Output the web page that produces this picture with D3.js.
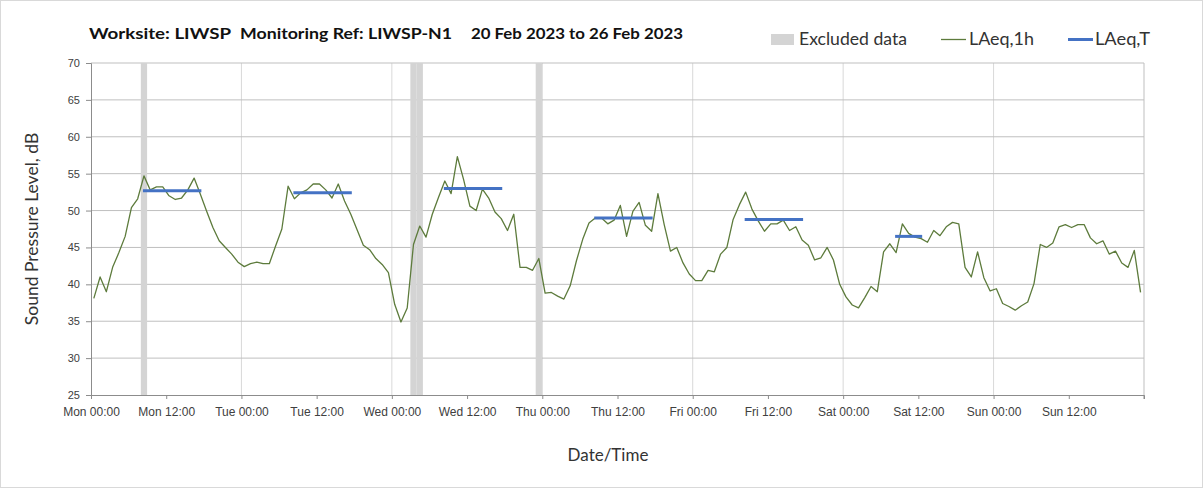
<!DOCTYPE html>
<html>
<head>
<meta charset="utf-8">
<title>LIWSP-N1</title>
<style>
  body { margin: 0; background: #fff; }
  svg { display: block; font-family: Lato, "Open Sans", sans-serif; }
  .tick text { fill: #404040; }
</style>
</head>
<body>
<div id="chart"></div>
<script src="https://d3js.org/d3.v7.min.js"></script>
<script>
// hourly LAeq,1h values, Mon 00:00 .. Sun 23:00
const laeq1h = [
  38.1, 41.0, 39.0, 42.3, 44.3, 46.5, 50.4, 51.6, 54.7, 52.8, 53.2, 53.2,
  52.0, 51.5, 51.7, 52.8, 54.4, 52.2, 49.9, 47.7, 45.9, 45.0, 44.1, 43.0,
  42.4, 42.8, 43.0, 42.8, 42.8, 45.2, 47.5, 53.3, 51.6, 52.4, 52.8, 53.6,
  53.6, 52.8, 51.7, 53.6, 51.3, 49.5, 47.4, 45.3, 44.7, 43.5, 42.7, 41.6,
  37.3, 34.9, 36.8, 45.4, 47.9, 46.4, 49.5, 51.8, 54.0, 52.3, 57.3, 54.2,
  50.6, 50.0, 52.9, 51.7, 49.8, 48.9, 47.3, 49.5, 42.3, 42.3, 41.9, 43.5,
  38.8, 38.9, 38.4, 38.0, 39.8, 43.2, 46.1, 48.3, 49.0, 49.0, 48.2, 48.7,
  50.7, 46.5, 49.9, 51.1, 48.0, 47.2, 52.3, 48.1, 44.5, 45.0, 42.9, 41.4,
  40.5, 40.5, 41.9, 41.7, 44.1, 45.0, 48.8, 50.8, 52.5, 50.2, 48.6, 47.2,
  48.2, 48.2, 48.7, 47.3, 47.8, 46.0, 45.3, 43.3, 43.6, 45.0, 43.3, 40.0,
  38.3, 37.2, 36.8, 38.2, 39.7, 39.0, 44.4, 45.5, 44.3, 48.2, 46.9, 46.4,
  46.2, 45.7, 47.3, 46.6, 47.8, 48.4, 48.2, 42.3, 41.0, 44.4, 40.9, 39.1,
  39.4, 37.4, 37.0, 36.5, 37.1, 37.6, 40.1, 45.4, 45.0, 45.6, 47.8, 48.1,
  47.7, 48.1, 48.1, 46.3, 45.5, 45.9, 44.1, 44.5, 42.9, 42.3, 44.6, 38.9
];

// LAeq,T over the daytime period (hour index from Mon 00:00)
const periodStart = [8, 32, 56, 80, 104, 128];
const periodEnd   = [17, 41, 65, 89, 113, 132];
const laeqT       = [52.7, 52.4, 53.0, 49.0, 48.8, 46.5];

// hours flagged as excluded
const excludedHours = [8, 51, 52, 71];

const dayNames = ["Mon", "Tue", "Wed", "Thu", "Fri", "Sat", "Sun"];
const yTicks = [25, 30, 35, 40, 45, 50, 55, 60, 65, 70];

const W = 1203, H = 488;
const mLeft = 91, mRight = 1144, mTop = 63, mBottom = 395;
const off = 0.45; // hourly points sit a little after the hour mark

const svg = d3.select("#chart").append("svg")
  .attr("width", W)
  .attr("height", H);

svg.append("rect")
  .attr("x", 0.5).attr("y", 0.5)
  .attr("width", W - 1).attr("height", H - 1)
  .attr("fill", "#fff")
  .attr("stroke", "#d9d9d9");

const x = d3.scaleLinear().domain([0, 168]).range([mLeft, mRight]);
const y = d3.scaleLinear().domain([25, 70]).range([mBottom, mTop]);

// vertical gridlines at midnight
svg.append("g")
  .selectAll("line")
  .data(d3.range(1, 7).map(d => d * 24))
  .join("line")
  .attr("x1", d => x(d)).attr("x2", d => x(d))
  .attr("y1", mTop).attr("y2", mBottom)
  .attr("stroke", "#d9d9d9")
  .attr("stroke-width", 1);

// horizontal gridlines
svg.append("g")
  .selectAll("line")
  .data(yTicks.filter(d => d > 25))
  .join("line")
  .attr("x1", mLeft).attr("x2", mRight)
  .attr("y1", d => y(d)).attr("y2", d => y(d))
  .attr("stroke", "#bfbfbf")
  .attr("stroke-width", 1);

// right edge
svg.append("line")
  .attr("x1", mRight).attr("x2", mRight)
  .attr("y1", mTop).attr("y2", mBottom)
  .attr("stroke", "#bfbfbf");

// excluded bands
svg.append("g")
  .selectAll("rect")
  .data(excludedHours)
  .join("rect")
  .attr("x", d => x(d + off - 0.5))
  .attr("width", d => x(d + off + 0.5) - x(d + off - 0.5))
  .attr("y", mTop)
  .attr("height", mBottom - mTop)
  .attr("fill", "#d4d4d4");

// y axis
const yAxis = d3.axisLeft(y).tickValues(yTicks).tickSize(5).tickPadding(6);
const gy = svg.append("g")
  .attr("transform", `translate(${mLeft},0)`)
  .call(yAxis);
gy.select(".domain").attr("stroke", "#8c8c8c");
gy.selectAll(".tick line").attr("stroke", "#8c8c8c");
gy.selectAll(".tick text").attr("font-size", 11);

// x axis
const xAxis = d3.axisBottom(x)
  .tickValues(d3.range(0, 168, 12))
  .tickSize(4)
  .tickPadding(8)
  .tickFormat(d => dayNames[Math.floor(d / 24)] + " " + (d % 24 === 0 ? "00:00" : "12:00"));
const gx = svg.append("g")
  .attr("transform", `translate(0,${mBottom})`)
  .call(xAxis);
gx.select(".domain").attr("stroke", "#8c8c8c");
gx.selectAll(".tick line").attr("stroke", "#8c8c8c");
gx.selectAll(".tick text").attr("font-size", 12);
gx.append("line")
  .attr("x1", mRight).attr("x2", mRight)
  .attr("y1", 0).attr("y2", 4)
  .attr("stroke", "#8c8c8c");

// LAeq,1h line
const line = d3.line()
  .x((d, i) => x(i + off))
  .y(d => y(d));
svg.append("path")
  .datum(laeq1h)
  .attr("fill", "none")
  .attr("stroke", "#5d7b3c")
  .attr("stroke-width", 1.3)
  .attr("stroke-linejoin", "round")
  .attr("d", line);

// LAeq,T segments
svg.append("g")
  .selectAll("line")
  .data(laeqT)
  .join("line")
  .attr("x1", (d, i) => x(periodStart[i] + off) - 1)
  .attr("x2", (d, i) => x(periodEnd[i] + off) + 1)
  .attr("y1", d => y(d))
  .attr("y2", d => y(d))
  .attr("stroke", "#4472c4")
  .attr("stroke-width", 3);

// titles
const title = svg.append("g")
  .attr("font-size", 16)
  .attr("font-weight", "bold")
  .attr("fill", "#111");
title.append("text").attr("x", 89).attr("y", 39)
  .attr("textLength", 142).attr("lengthAdjust", "spacingAndGlyphs").text("Worksite: LIWSP");
title.append("text").attr("x", 240).attr("y", 39)
  .attr("textLength", 212).attr("lengthAdjust", "spacingAndGlyphs").text("Monitoring Ref: LIWSP-N1");
title.append("text").attr("x", 471).attr("y", 39)
  .attr("textLength", 212).attr("lengthAdjust", "spacingAndGlyphs").text("20 Feb 2023 to 26 Feb 2023");

// legend
const lg = svg.append("g").attr("font-size", 17).attr("fill", "#333");
lg.append("rect").attr("x", 771).attr("y", 34).attr("width", 23).attr("height", 11).attr("fill", "#d4d4d4");
lg.append("text").attr("x", 799).attr("y", 45)
  .attr("textLength", 108).attr("lengthAdjust", "spacingAndGlyphs").text("Excluded data");
lg.append("line").attr("x1", 941).attr("x2", 966).attr("y1", 39.5).attr("y2", 39.5)
  .attr("stroke", "#5d7b3c").attr("stroke-width", 1.3);
lg.append("text").attr("x", 969).attr("y", 45)
  .attr("textLength", 65).attr("lengthAdjust", "spacingAndGlyphs").text("LAeq,1h");
lg.append("line").attr("x1", 1068).attr("x2", 1093).attr("y1", 39.5).attr("y2", 39.5)
  .attr("stroke", "#4472c4").attr("stroke-width", 3);
lg.append("text").attr("x", 1095).attr("y", 45)
  .attr("textLength", 55).attr("lengthAdjust", "spacingAndGlyphs").text("LAeq,T");

// axis titles
svg.append("text")
  .attr("transform", `translate(38,${(mTop + mBottom) / 2}) rotate(-90)`)
  .attr("text-anchor", "middle")
  .attr("font-size", 17.5)
  .attr("fill", "#333")
  .text("Sound Pressure Level, dB");
svg.append("text")
  .attr("x", 608)
  .attr("y", 461)
  .attr("text-anchor", "middle")
  .attr("font-size", 17)
  .attr("fill", "#333")
  .text("Date/Time");
</script>
</body>
</html>
